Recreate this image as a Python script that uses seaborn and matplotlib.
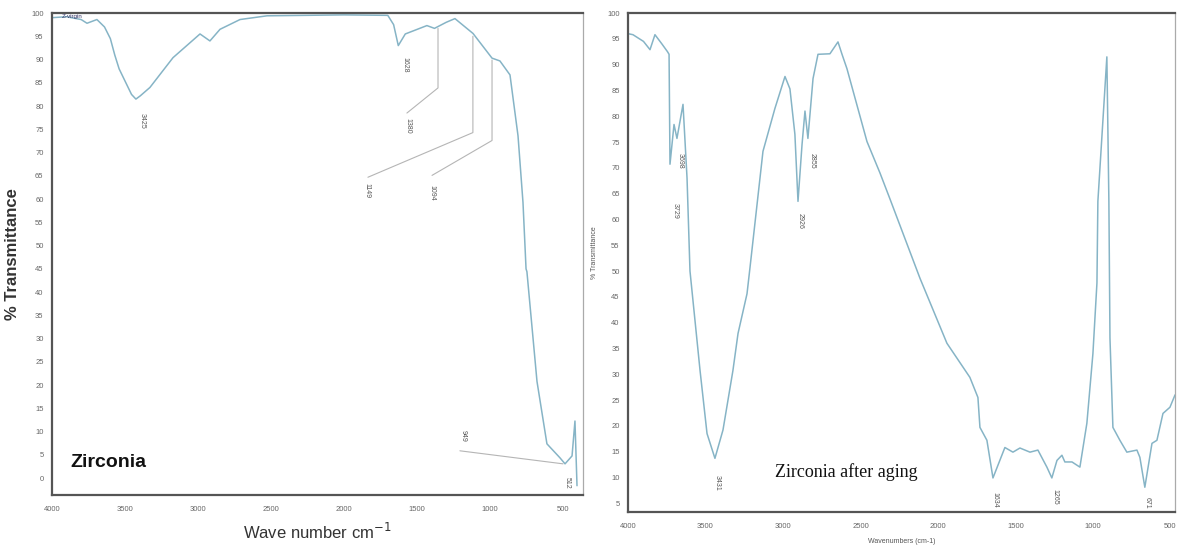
import numpy as np
import pandas as pd
import seaborn as sns
import matplotlib.pyplot as plt

# Zirconia (virgin) spectrum
zr_wn = [4000, 3900, 3800, 3760, 3692, 3640, 3600, 3570, 3540, 3486, 3455, 3425, 3395,
         3329, 3171, 2986, 2918, 2849, 2712, 2527, 2000, 1700, 1660, 1628, 1580, 1432,
         1380, 1300, 1240, 1116, 986, 932, 863, 808, 774, 753, 747, 678, 610, 521, 486,
         438, 418, 404]
zr_t = [99.0, 99.2, 98.6, 97.8, 98.6, 97.0, 94.5, 91.0, 88.0, 84.5, 82.5, 81.5, 82.2,
        84.0, 90.4, 95.5, 94.0, 96.5, 98.6, 99.4, 99.6, 99.5, 97.5, 93.0, 95.5, 97.3,
        96.7, 98.0, 98.8, 95.6, 90.3, 89.7, 86.7, 73.6, 59.3, 45.0, 44.4, 20.8, 7.4, 4.4,
        3.1, 4.8, 12.3, -1.6]

# Zirconia after aging spectrum
ag_wn = [4000, 3968, 3900, 3858, 3826, 3781, 3745, 3735, 3729, 3703, 3684, 3645, 3619,
         3600, 3535, 3490, 3439, 3387, 3323, 3290, 3232, 3213, 3129, 3052, 2987, 2955,
         2923, 2903, 2877, 2858, 2839, 2806, 2774, 2697, 2645, 2619, 2587, 2458, 2374,
         2310, 2116, 1942, 1794, 1742, 1729, 1684, 1645, 1568, 1516, 1471, 1406, 1355,
         1297, 1265, 1232, 1200, 1181, 1135, 1084, 1039, 1000, 974, 968, 910, 897, 890,
         871, 826, 781, 716, 697, 665, 619, 587, 548, 503, 470]
ag_t = [96.0, 95.8, 94.5, 92.9, 95.8, 94.0, 92.5, 92.0, 70.7, 78.4, 75.7, 82.3, 68.0,
        50.0, 30.7, 18.5, 13.7, 19.2, 30.7, 37.9, 45.6, 50.6, 73.2, 81.5, 87.7, 85.3,
        76.5, 63.5, 74.5, 81.0, 75.7, 87.3, 92.0, 92.1, 94.4, 92.0, 89.2, 75.1, 69.0,
        64.0, 48.6, 36.0, 29.4, 25.5, 19.7, 17.2, 9.9, 15.8, 14.9, 15.7, 14.9, 15.3,
        12.0, 9.9, 13.3, 14.3, 13.0, 13.0, 12.0, 20.5, 34.0, 47.7, 63.5, 91.5, 63.5, 37.0,
        19.7, 17.2, 14.9, 15.3, 13.9, 8.1, 16.6, 17.2, 22.4, 23.6, 26.0]

# peak labels (text, wavenumber, transmittance of label)
zr_peaks = [("3425", 3384, 76.8), ("1628", 1582, 88.8), ("1380", 1562, 75.8),
            ("1149", 1843, 61.9), ("1094", 1397, 61.4), ("949", 1185, 9.1), ("512", 473, -1.0)]
ag_peaks = [("3729", 3697, 61.6), ("3698", 3665, 71.3), ("3431", 3426, 8.9),
            ("2926", 2890, 59.7), ("2855", 2813, 71.3), ("1634", 1632, 5.6),
            ("1265", 1245, 6.2), ("671", 652, 5.0)]

sns.set_style("white")
plt.rcParams['font.family'] = ['Liberation Sans', 'DejaVu Sans']

line_col = '#86b4c6'
tick_col = '#666666'
lead_col = '#b5b5b5'

fig = plt.figure(figsize=(11.78, 5.54), dpi=100)
ax1 = fig.add_axes([0.0441, 0.1065, 0.4508, 0.870])
ax2 = fig.add_axes([0.5331, 0.0758, 0.4644, 0.9007])

df1 = pd.DataFrame({'wn': zr_wn, 't': zr_t})
df2 = pd.DataFrame({'wn': ag_wn, 't': ag_t})
sns.lineplot(data=df1, x='wn', y='t', ax=ax1, sort=False, estimator=None,
             color=line_col, linewidth=1.1)
sns.lineplot(data=df2, x='wn', y='t', ax=ax2, sort=False, estimator=None,
             color=line_col, linewidth=1.1)

# left panel
ax1.set_xlim(4000, 363)
ax1.set_ylim(-3.6, 100)
ax1.set_xticks([4000, 3500, 3000, 2500, 2000, 1500, 1000, 500])
ax1.set_yticks(np.arange(0, 101, 5))
ax1.set_xlabel('Wave number cm$^{-1}$', fontsize=12, color='#333333', labelpad=6)
ax1.set_ylabel('% Transmittance', fontsize=12, fontweight='bold', color='#333333', labelpad=8)

# leader lines
ax1.plot([1356, 1356, 1569], [96.7, 83.9, 78.5], color=lead_col, lw=0.8)
ax1.plot([1117, 1117, 1836], [95.0, 74.3, 64.7], color=lead_col, lw=0.8)
ax1.plot([986, 986, 1397], [89.9, 72.6, 65.1], color=lead_col, lw=0.8)
ax1.plot([1206, 500], [5.9, 3.1], color=lead_col, lw=0.8)

for txt, x, y in zr_peaks:
    ax1.text(x, y, txt, rotation=-90, fontsize=5, color='#555555', ha='center', va='center')

ax1.text(3877, 3.3, 'Zirconia', fontsize=14, fontweight='bold', color='#111111', va='center')
ax1.text(3930, 99.3, 'Z-virgin', fontsize=4.5, color='#333366', va='center')

# right panel
ax2.set_xlim(4000, 470)
ax2.set_ylim(3.3, 100)
ax2.set_xticks([4000, 3500, 3000, 2500, 2000, 1500, 1000, 500])
ax2.set_yticks(np.arange(5, 101, 5))
ax2.set_xlabel('Wavenumbers (cm-1)', fontsize=5, color='#555555', labelpad=6)
ax2.set_ylabel('% Transmittance', fontsize=5, color='#555555', labelpad=12)
ax2.yaxis.set_label_coords(-0.055, 0.52)

for txt, x, y in ag_peaks:
    ax2.text(x, y, txt, rotation=-90, fontsize=5, color='#555555', ha='center', va='center')

ax2.text(3052, 11, 'Zirconia after aging', fontsize=13, family=['Liberation Serif', 'DejaVu Serif'],
         color='#111111', va='center')

for ax in (ax1, ax2):
    ax.tick_params(axis='both', labelsize=5.5, colors=tick_col, length=2, width=0.6, pad=4)
    ax.tick_params(axis='x', pad=6)
    for side in ('left', 'bottom', 'top'):
        ax.spines[side].set_color('#555555')
        ax.spines[side].set_linewidth(1.6)
    ax.spines['right'].set_color('#aaaaaa')
    ax.spines['right'].set_linewidth(0.9)

fig.savefig('out.png', dpi=100)
